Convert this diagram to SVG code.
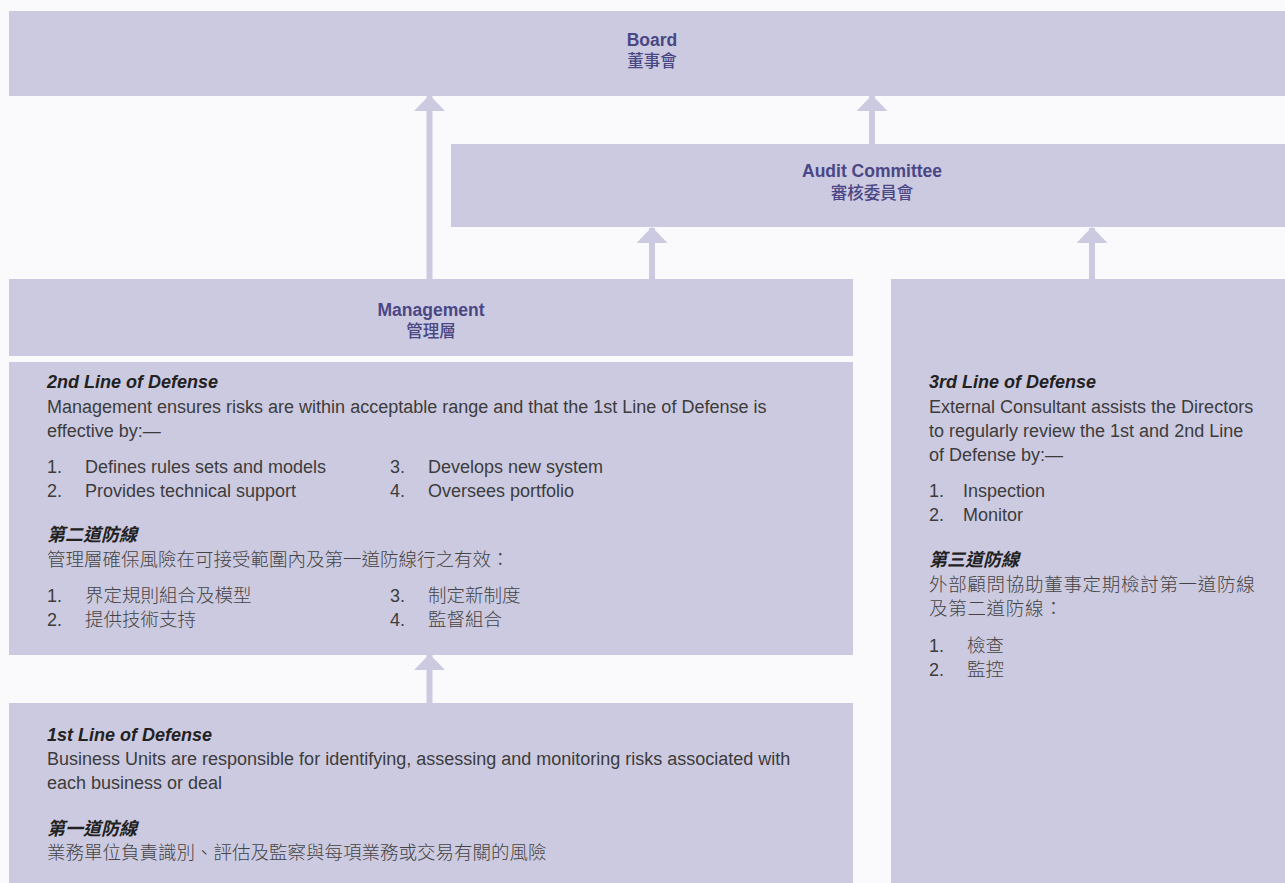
<svg xmlns="http://www.w3.org/2000/svg" width="1285" height="883" viewBox="0 0 1285 883">
<defs>
<style>
.box{fill:#CCCAE0;}
.hd{font-family:"Liberation Sans","Noto Sans CJK TC",sans-serif;font-size:17.5px;font-weight:bold;fill:#4A4785;text-anchor:middle;}
.hdc{font-family:"Noto Sans CJK TC","Liberation Sans",sans-serif;font-size:16.5px;fill:#4A4785;text-anchor:middle;font-weight:500;}
.t{font-family:"Liberation Sans","Noto Sans CJK TC",sans-serif;font-size:18px;fill:#3C3C3C;}
.ti{font-family:"Liberation Sans","Noto Sans CJK TC",sans-serif;font-size:18px;fill:#222;font-weight:bold;font-style:italic;}
.c{font-family:"Noto Sans CJK TC",sans-serif;font-size:18.5px;fill:#444;font-weight:300;}
.ci{font-family:"Noto Sans CJK TC",sans-serif;font-size:18px;fill:#222;font-weight:bold;font-style:italic;}
.conn{stroke:#CCCAE0;stroke-width:6;fill:none;marker-end:url(#ah);}
</style>
<marker id="ah" viewBox="0 0 16 31" refX="15" refY="15.5" markerWidth="16" markerHeight="31" markerUnits="userSpaceOnUse" orient="auto">
<path d="M0,0 L16,15.5 L0,31 Z" fill="#CCCAE0"/>
</marker>
</defs>
<rect x="0" y="0" width="1285" height="883" fill="#FAFAFC"/>

<g id="connectors">
<line class="conn" x1="429.5" y1="279" x2="429.5" y2="96"/>
<line class="conn" x1="872" y1="144" x2="872" y2="96"/>
<line class="conn" x1="652" y1="279" x2="652" y2="228"/>
<line class="conn" x1="1092" y1="279" x2="1092" y2="228"/>
<line class="conn" x1="429.5" y1="703" x2="429.5" y2="655"/>
</g>

<g id="board">
<rect class="box" x="9" y="11" width="1276" height="85"/>
<text class="hd" x="652" y="46">Board</text>
<text class="hdc" x="652" y="67">董事會</text>
</g>

<g id="audit">
<rect class="box" x="451" y="144" width="834" height="83"/>
<text class="hd" x="872" y="177">Audit Committee</text>
<text class="hdc" x="872" y="199">審核委員會</text>
</g>

<g id="management">
<rect class="box" x="9" y="279" width="844" height="77"/>
<text class="hd" x="431" y="316">Management</text>
<text class="hdc" x="431" y="337">管理層</text>
</g>

<g id="second-line">
<rect class="box" x="9" y="362" width="844" height="293"/>
<text class="ti" x="47" y="388">2nd Line of Defense</text>
<text class="t" x="47" y="413">Management ensures risks are within acceptable range and that the 1st Line of Defense is</text>
<text class="t" x="47" y="437">effective by:—</text>
<text class="t" x="47" y="473">1.</text><text class="t" x="85" y="473">Defines rules sets and models</text>
<text class="t" x="390" y="473">3.</text><text class="t" x="428" y="473">Develops new system</text>
<text class="t" x="47" y="497">2.</text><text class="t" x="85" y="497">Provides technical support</text>
<text class="t" x="390" y="497">4.</text><text class="t" x="428" y="497">Oversees portfolio</text>
<text class="ci" x="47" y="541">第二道防線</text>
<text class="c" x="47" y="566">管理層確保風險在可接受範圍內及第一道防線行之有效：</text>
<text class="t" x="47" y="602">1.</text><text class="c" x="85" y="602">界定規則組合及模型</text>
<text class="t" x="390" y="602">3.</text><text class="c" x="428" y="602">制定新制度</text>
<text class="t" x="47" y="626">2.</text><text class="c" x="85" y="626">提供技術支持</text>
<text class="t" x="390" y="626">4.</text><text class="c" x="428" y="626">監督組合</text>
</g>

<g id="first-line">
<rect class="box" x="9" y="703" width="844" height="180"/>
<text class="ti" x="47" y="741">1st Line of Defense</text>
<text class="t" x="47" y="765">Business Units are responsible for identifying, assessing and monitoring risks associated with</text>
<text class="t" x="47" y="789">each business or deal</text>
<text class="ci" x="47" y="835">第一道防線</text>
<text class="c" x="47" y="859">業務單位負責識別、評估及監察與每項業務或交易有關的風險</text>
</g>

<g id="third-line">
<rect class="box" x="891" y="279" width="394" height="604"/>
<text class="ti" x="929" y="388">3rd Line of Defense</text>
<text class="t" x="929" y="413">External Consultant assists the Directors</text>
<text class="t" x="929" y="437">to regularly review the 1st and 2nd Line</text>
<text class="t" x="929" y="461">of Defense by:—</text>
<text class="t" x="929" y="497">1.</text><text class="t" x="963" y="497">Inspection</text>
<text class="t" x="929" y="521">2.</text><text class="t" x="963" y="521">Monitor</text>
<text class="ci" x="929" y="566">第三道防線</text>
<text class="c" x="929" y="591" letter-spacing="0.7">外部顧問協助董事定期檢討第一道防線</text>
<text class="c" x="929" y="615" letter-spacing="0.7">及第二道防線：</text>
<text class="t" x="929" y="652">1.</text><text class="c" x="967" y="652">檢查</text>
<text class="t" x="929" y="676">2.</text><text class="c" x="967" y="676">監控</text>
</g>
</svg>
